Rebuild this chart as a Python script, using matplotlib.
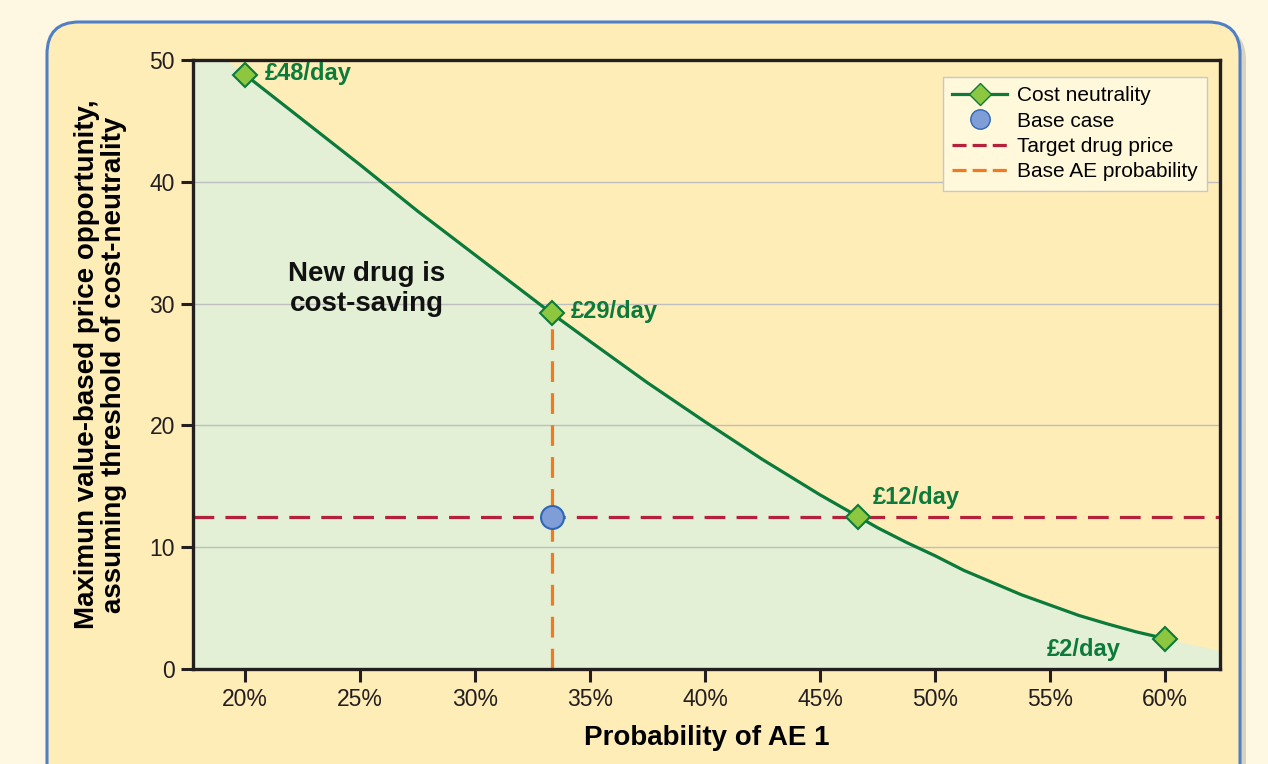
import matplotlib.pyplot as plt
import numpy as np
from matplotlib.patches import FancyBboxPatch
from matplotlib.lines import Line2D
from matplotlib.transforms import IdentityTransform

plt.rcParams["font.family"] = ["Liberation Sans", "DejaVu Sans"]

# curve (probability of AE 1 in %, price in £/day)
curve_x = [17.7, 20, 22.5, 25, 27.5, 30, 32.5, 33.33, 35, 37.5, 40, 42.5, 45,
           46.67, 47.5, 48.75, 50, 51.25, 52.5, 53.75, 55, 56.25, 57.5, 58.75, 60, 62.4]
curve_y = [52.2, 48.8, 45.1, 41.4, 37.6, 34.0, 30.4, 29.2, 26.9, 23.5, 20.3, 17.2, 14.3,
           12.5, 11.6, 10.4, 9.3, 8.1, 7.1, 6.1, 5.25, 4.4, 3.7, 3.05, 2.5, 1.5]

point_x = [20, 33.33, 46.67, 60]
point_y = [48.8, 29.2, 12.5, 2.5]
point_labels = ["£48/day", "£29/day", "£12/day", "£2/day"]

base_x = 33.33
base_y = 12.5
target_price = 12.5

xticks = [20, 25, 30, 35, 40, 45, 50, 55, 60]
yticks = [0, 10, 20, 30, 40, 50]

green = "#0B7A3B"
marker_green = "#8DC63F"
red = "#B5213A"
orange = "#F07A22"
panel = "#FFEDB8"

fig = plt.figure(figsize=(12.68, 7.64), dpi=100)
fig.patch.set_facecolor("#FEF7E1")

# rounded panel with a soft shadow
shadow = FancyBboxPatch((53, -60), 1193, 796, boxstyle="round,pad=0,rounding_size=32",
                        transform=IdentityTransform(), facecolor="#D9D2C0", edgecolor="none",
                        zorder=-3)
box = FancyBboxPatch((47, -60), 1193, 802, boxstyle="round,pad=0,rounding_size=32",
                     transform=IdentityTransform(), facecolor=panel, edgecolor="#4F7FC6",
                     linewidth=2.2, zorder=-2)
fig.patches.extend([shadow, box])

ax = fig.add_axes([0.1522, 0.1243, 0.8100, 0.7972])
ax.set_facecolor(panel)
ax.set_xlim(17.74, 62.39)
ax.set_ylim(0, 50)

ax.fill_between(curve_x, 0, curve_y, color="#E3F0D5", zorder=1, linewidth=0)

for y in yticks[1:-1]:
    ax.axhline(y, color="#BEBEBE", linewidth=1, zorder=1.5)

# keep the drawn line between the first and last marker
sel = [i for i, x in enumerate(curve_x) if point_x[0] <= x <= point_x[-1]]
ax.plot([curve_x[i] for i in sel], [curve_y[i] for i in sel], color=green, linewidth=2.3,
        zorder=3, solid_joinstyle="round")

ax.axhline(target_price, color=red, linewidth=2.3, dashes=(6.5, 3.5), zorder=2.5)
ax.plot([base_x, base_x], [0, point_y[1]], color=orange, linewidth=2.3, dashes=(6.5, 3.5), zorder=2.5)

ax.plot(point_x, point_y, linestyle="none", marker="D", markersize=12.5,
        markerfacecolor=marker_green, markeredgecolor=green, markeredgewidth=1.5, zorder=4)
ax.plot([base_x], [base_y], linestyle="none", marker="o", markersize=16.5,
        markerfacecolor="#7F9ED8", markeredgecolor="#2F66B8", markeredgewidth=1.5, zorder=4)

offsets = [(14, 1), (14, 1), (10, 14), (-32, -8)]
aligns = ["left", "left", "left", "right"]
for x, y, lab, off, ha in zip(point_x, point_y, point_labels, offsets, aligns):
    ax.annotate(lab, (x, y), xytext=off, textcoords="offset points", ha=ha, va="center",
                color=green, fontsize=17, fontweight="bold", zorder=5)

ax.text(25.3, 31.2, "New drug is\ncost-saving", ha="center", va="center", fontsize=20,
        fontweight="bold", color="#111111", linespacing=1.2)

ax.set_xticks(xticks)
ax.set_xticklabels([f"{x}%" for x in xticks])
ax.set_yticks(yticks)
ax.tick_params(axis="both", labelsize=16.5, colors="#231F20", width=2.2, length=9, direction="out")
ax.tick_params(axis="x", pad=5)
ax.tick_params(axis="y", pad=4)
for s in ax.spines.values():
    s.set_linewidth(2.4)
    s.set_color("#231F20")

ax.set_xlabel("Probability of AE 1", fontsize=20, fontweight="bold", labelpad=10)
ax.set_ylabel("Maximun value-based price opportunity,\nassuming threshold of cost-neutrality",
              fontsize=20, fontweight="bold", labelpad=16, linespacing=1.05)

handles = [
    Line2D([], [], color=green, linewidth=2.3, marker="D", markersize=11,
           markerfacecolor=marker_green, markeredgecolor=green),
    Line2D([], [], linestyle="none", marker="o", markersize=14,
           markerfacecolor="#7F9ED8", markeredgecolor="#2F66B8"),
    Line2D([], [], color=red, linewidth=2.3, dashes=(4.4, 1.9)),
    Line2D([], [], color=orange, linewidth=2.3, dashes=(4.4, 1.9)),
]
leg = ax.legend(handles, ["Cost neutrality", "Base case", "Target drug price", "Base AE probability"],
                loc="upper right", bbox_to_anchor=(0.987, 0.972), borderaxespad=0, fontsize=15,
                frameon=True, fancybox=False, handlelength=2.65, labelspacing=0.3,
                borderpad=0.45, handletextpad=0.45)
leg.get_frame().set_facecolor("#FFF8DA")
leg.get_frame().set_edgecolor("#C8C8C8")
leg.get_frame().set_alpha(1)
leg.get_frame().set_linewidth(1)
leg.set_zorder(6)

fig.savefig("out.png", dpi=100, facecolor=fig.get_facecolor())
